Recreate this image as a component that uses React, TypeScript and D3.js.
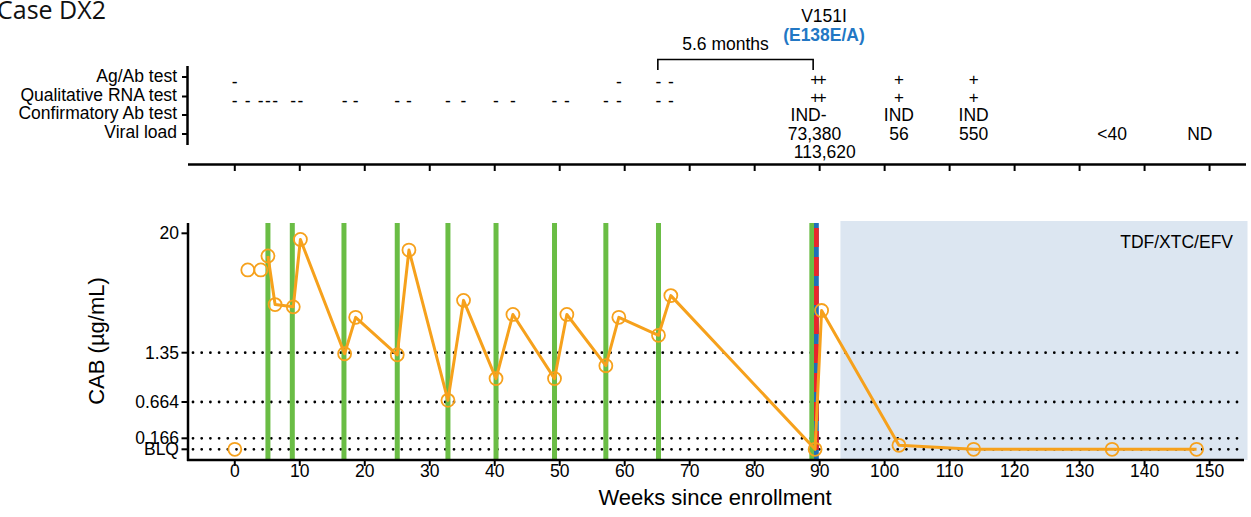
import React from "react";
import * as d3 from "d3";

const BLQ = 0.1;
const weeks = [0, 2, 4, 5.1, 6.2, 9, 10.1, 16.9, 18.6, 25, 26.8, 32.8, 35.2, 40.2, 42.8, 49.2, 51.1, 57.1, 59.1, 65.2, 67.1, 89.3, 90.3, 102.2, 113.7, 135, 148];
const cab = [BLQ, 8.75, 8.75, 12.0, 4.0, 3.8, 17.4, 1.33, 3.0, 1.31, 13.7, 0.68, 4.4, 0.93, 3.2, 0.93, 3.2, 1.12, 3.0, 2.0, 4.9, BLQ, 3.5, 0.12, BLQ, BLQ, BLQ];
const lineStartIndex = 3;
const injectionWeeks = [5.1, 8.85, 16.8, 25.0, 32.8, 40.2, 49.2, 57.1, 65.2, 88.8];
const diagnosisWeek = 89.5;
const artStartWeek = 93.2;
const yTickValues = [BLQ, 0.166, 0.664, 1.35, 20];
const yTickLabels = ["BLQ", "0.166", "0.664", "1.35", "20"];
const refLines = [BLQ, 0.166, 0.664, 1.35];
const xTicks = d3.range(0, 151, 10);

const rowLabels = ["Ag/Ab test", "Qualitative RNA test", "Confirmatory Ab test", "Viral load"];
const agabNegWeeks = [0, 59.1, 65.2, 67.1];
const rnaNegWeeks = [0, 2, 4, 5.1, 6.2, 9, 10.1, 16.9, 18.6, 25, 26.8, 32.8, 35.2, 40.2, 42.8, 49.2, 51.1, 57.1, 59.1, 65.2, 67.1];
const agabPosWeeks = [89.3, 90.3, 102.2, 113.7];
const rnaPosWeeks = [89.3, 90.3, 102.2, 113.7];
const confirmWeeks = [88.3, 102.2, 113.7];
const confirmText = ["IND-", "IND", "IND"];
const vlWeeks = [89.2, 90.8, 102.2, 113.7, 135, 148.5];
const vlText = ["73,380", "113,620", "56", "550", "<40", "ND"];
const vlLine = [0, 1, 0, 0, 0, 0];
const bracketWeeks = [65.1, 89.0];

const FONT = "'Liberation Sans', Arial, sans-serif";
const ORANGE = "#F6A11C";
const GREEN = "#6ABD45";

export default function App() {
  const x = d3.scaleLinear().domain([-7.2, 155.3]).range([188, 1244]);
  const y = d3
    .scaleLog()
    .domain([0.1, 0.166, 0.664, 1.35, 20, 25.2])
    .range([449.3, 438.3, 402, 352.7, 233.3, 223]);
  const plotTop = 223;
  const plotBottom = 460;

  const lineGen = d3
    .line<number>()
    .x((i) => x(weeks[i]))
    .y((i) => y(cab[i]));
  const lineIdx = d3.range(lineStartIndex, weeks.length);

  const rowTicks = [77, 96.5, 115, 134];
  const labelBaselines = [81.7, 100.7, 118.6, 138.3];

  return (
    <svg width={1251} height={517} style={{ position: "absolute", left: 0, top: 0, background: "#fff" }} fontFamily={FONT}>
      {/* Title */}
      <text x={-3} y={19} fontFamily="'Open Sans', sans-serif" fontSize={25} fill="#111">Case DX2</text>

      {/* Top panel */}
      <line x1={187.5} x2={187.5} y1={66} y2={145} stroke="#000" strokeWidth={2.5} />
      {rowTicks.map((t, i) => (
        <line key={"rt" + i} x1={182} x2={188} y1={t} y2={t} stroke="#000" strokeWidth={2} />
      ))}
      {rowLabels.map((l, i) => (
        <text key={"rl" + i} x={177} y={labelBaselines[i]} textAnchor="end" fontSize={17.5}>{l}</text>
      ))}
      <line x1={188} x2={1246} y1={164.5} y2={164.5} stroke="#000" strokeWidth={2.5} />
      {xTicks.map((t) => (
        <line key={"tt" + t} x1={x(t)} x2={x(t)} y1={164} y2={171} stroke="#000" strokeWidth={2} />
      ))}
      {agabNegWeeks.map((w, i) => (
        <text key={"an" + i} x={x(w)} y={88} textAnchor="middle" fontSize={17.5}>-</text>
      ))}
      {rnaNegWeeks.map((w, i) => (
        <text key={"rn" + i} x={x(w)} y={107} textAnchor="middle" fontSize={17.5}>-</text>
      ))}
      {agabPosWeeks.map((w, i) => (
        <text key={"ap" + i} x={x(w)} y={84.5} textAnchor="middle" fontSize={17}>+</text>
      ))}
      {rnaPosWeeks.map((w, i) => (
        <text key={"rp" + i} x={x(w)} y={102.5} textAnchor="middle" fontSize={17}>+</text>
      ))}
      {confirmWeeks.map((w, i) => (
        <text key={"cf" + i} x={x(w)} y={121} textAnchor="middle" fontSize={17.5}>{confirmText[i]}</text>
      ))}
      {vlWeeks.map((w, i) => (
        <text key={"vl" + i} x={x(w)} y={139.5 + vlLine[i] * 18.5} textAnchor="middle" fontSize={17.5}>{vlText[i]}</text>
      ))}
      {/* Bracket */}
      <path
        d={`M${x(bracketWeeks[0])},70 V59.5 H${x(bracketWeeks[1])} V70`}
        fill="none"
        stroke="#000"
        strokeWidth={1.6}
      />
      <text x={725.5} y={49.5} textAnchor="middle" fontSize={17.5}>5.6 months</text>
      <text x={824} y={21.5} textAnchor="middle" fontSize={17.5}>V151I</text>
      <text x={824} y={41} textAnchor="middle" fontSize={17.5} fontWeight="bold" fill="#2277C4">(E138E/A)</text>

      {/* Lower panel */}
      <rect x={x(artStartWeek)} y={221} width={1247.5 - x(artStartWeek)} height={plotBottom - 221} fill="#DCE6F1" />
      <text x={1233} y={248} textAnchor="end" fontSize={17.5}>TDF/XTC/EFV</text>
      {refLines.map((v, i) => (
        <line
          key={"ref" + i}
          x1={193}
          x2={1242}
          y1={y(v)}
          y2={y(v)}
          stroke="#000"
          strokeWidth={2.8}
          strokeLinecap="round"
          strokeDasharray="0 8.7"
        />
      ))}
      {injectionWeeks.map((w, i) => (
        <rect key={"inj" + i} x={x(w) - 2.5} y={plotTop} width={5} height={plotBottom - plotTop} fill={GREEN} />
      ))}
      <rect x={x(diagnosisWeek) - 2.4} y={plotTop} width={4.8} height={plotBottom - plotTop} fill="#1F6FB8" />
      <line
        x1={x(diagnosisWeek)}
        x2={x(diagnosisWeek)}
        y1={plotTop}
        y2={plotBottom}
        stroke="#E8262B"
        strokeWidth={4.8}
        strokeDasharray="19 10"
        strokeDashoffset={24}
      />
      <path d={lineGen(lineIdx) || ""} fill="none" stroke={ORANGE} strokeWidth={3} strokeLinejoin="round" />
      {weeks.map((w, i) => (
        <circle key={"pt" + i} cx={x(w)} cy={y(cab[i])} r={6.5} fill="none" stroke={ORANGE} strokeWidth={1.8} />
      ))}

      {/* Axes */}
      <line x1={188} x2={188} y1={plotTop} y2={plotBottom + 1} stroke="#000" strokeWidth={2.5} />
      {yTickValues.map((v, i) => (
        <g key={"yt" + i}>
          <line x1={181.5} x2={188} y1={y(v)} y2={y(v)} stroke="#000" strokeWidth={2} />
          <text x={179} y={y(v) + 6} textAnchor="end" fontSize={17.5}>{yTickLabels[i]}</text>
        </g>
      ))}
      <line x1={187} x2={1244} y1={plotBottom} y2={plotBottom} stroke="#000" strokeWidth={2.5} />
      {xTicks.map((t) => (
        <g key={"xt" + t}>
          <line x1={x(t)} x2={x(t)} y1={plotBottom} y2={plotBottom + 6} stroke="#000" strokeWidth={2} />
          <text x={x(t)} y={477} textAnchor="middle" fontSize={17.5}>{t}</text>
        </g>
      ))}
      <text x={715} y={505} textAnchor="middle" fontSize={22}>Weeks since enrollment</text>
      <text transform="translate(104,341) rotate(-90)" textAnchor="middle" fontSize={22}>CAB (µg/mL)</text>
    </svg>
  );
}
